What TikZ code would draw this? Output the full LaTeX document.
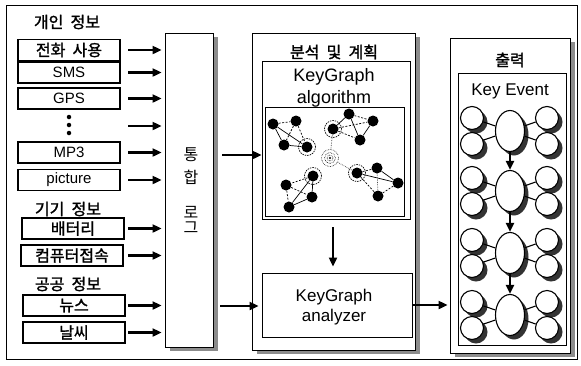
\documentclass[tikz,border=0pt]{standalone}
\usepackage{fontspec}
\setmainfont{Liberation Sans}
\newfontfamily\kr{Noto Sans CJK KR}
\newfontfamily\krb[FakeBold=1.5]{Noto Sans CJK KR}
\usetikzlibrary{arrows.meta,shapes.geometric,calc}
\newcommand\kgap{\hspace{0.45em}}
\begin{document}
\begin{tikzpicture}[x=1pt,y=-1pt,
  arr/.style={-{Triangle[length=9pt,width=8pt]}, line width=2.1pt},
  src/.style={draw, line width=1.2pt, minimum width=102pt, minimum height=21pt, inner sep=0pt},
  kt/.style={font=\kr\fontsize{16}{16}\selectfont},
  ktb/.style={font=\krb\fontsize{16}{16}\selectfont},
  lt/.style={font=\fontsize{15}{15}\selectfont},
  hdr/.style={font=\krb\fontsize{16}{16}\selectfont},
  panel/.style={draw, line width=0.9pt, fill=white, inner sep=0pt},
  shade/.style={fill=black!45},
  gn/.style={circle, fill=black, inner sep=0pt, minimum size=11pt},
  ge/.style={line width=0.7pt},
  gd/.style={line width=0.7pt, dash pattern=on 2pt off 1.5pt},
  gdot/.style={line width=0.7pt, densely dotted, black!70},
  sm/.style={circle, draw, line width=1.1pt, fill=white, inner sep=0pt, minimum size=23pt},
  bg/.style={ellipse, draw, line width=1.1pt, fill=white, inner sep=0pt, minimum width=29pt, minimum height=41pt},
  dotn/.style={circle, fill=black, inner sep=0pt, minimum size=4.5pt},
]
\useasboundingbox (0,0) rectangle (581,365);
\draw[line width=0.9pt] (6,5) rectangle (577,359);

% ---------- left column ----------
\node[hdr] (h1) at (67,22) {개인\kgap 정보};
\node[src,ktb] (s1) at (69,50) {전화\kgap 사용};
\node[src,lt] (s2) at (69,72.5) {SMS};
\node[src,lt] (s3) at (69,98.5) {GPS};
\node[dotn] (p1) at (69,117) {};
\node[dotn] (p2) at (69,125) {};
\node[dotn] (p3) at (69,133) {};
\node[src,lt] (s5) at (69,152.5) {MP3};
\node[src,lt] (s6) at (69,180) {picture};
\node[hdr] (h2) at (68,209) {기기\kgap 정보};
\node[src,ktb] (s7) at (73,228.5) {배터리};
\node[src,ktb] (s8) at (72,255.5) {컴퓨터접속};
\node[hdr] (h3) at (68,284) {공공\kgap 정보};
\node[src,ktb] (s9) at (74,305.5) {뉴스};
\node[src,ktb] (s10) at (74,332.5) {날씨};

% ---------- integrated log ----------
\fill[shade] (170,37) rectangle (218,351);
\node[panel, minimum width=48pt, minimum height=314pt] (log) at (189,190) {};
\node[kt] (t1) at (191,155) {통};
\node[kt] (t2) at (191,177) {합};
\node[kt] (t3) at (191,212) {로};
\node[kt] (t4) at (191,228) {그};

\coordinate (ax) at (128,0);
\foreach \n in {s1,s2,s3,s5,s6,s7,s8,s9,s10}
  \draw[arr, shorten >=3pt] (\n -| ax) -- (\n -| log.west);
\coordinate (dr) at (128,126);
\draw[arr, shorten >=3pt] (dr) -- (dr -| log.west);

% ---------- analysis & planning ----------
\fill[shade] (257,37) rectangle (420,354);
\node[panel, minimum width=163pt, minimum height=317pt] (ana) at (333.5,191.5) {};
\node[hdr] (h4) at (334,52) {분석\kgap 및\kgap 계획};
\node[panel, minimum width=148pt, minimum height=158pt] (alg) at (336,140) {};
\node[align=center, font=\fontsize{18}{22}\selectfont] (algt) at (334,87.5) {KeyGraph\\algorithm};
\node[panel, minimum width=139pt, minimum height=109pt] (gp) at (334.5,162) {};

% graph
\node[gn] (a1) at (273,124) {};
\node[gn] (a2) at (296,121) {};
\node[gn] (a3) at (284,145) {};
\node[gn] (a4) at (307,147) {};
\node[gn] (c1) at (333,129) {};
\node[gn] (c2) at (349,114) {};
\node[gn] (c3) at (373,121) {};
\node[gn] (c4) at (360,140) {};
\node[gn] (b1) at (313,176) {};
\node[gn] (b2) at (286,185) {};
\node[gn] (b3) at (312,197) {};
\node[gn] (b4) at (289,207) {};
\node[gn] (d1) at (357,173) {};
\node[gn] (d2) at (377,168) {};
\node[gn] (d3) at (398,183) {};
\node[gn] (d4) at (378,196) {};
\node[circle, draw, densely dotted, line width=0.6pt, inner sep=0pt, minimum size=17pt] (gm) at (330,158) {};
\draw[densely dotted, line width=0.6pt] (gm) circle (5.5pt) (gm) circle (3pt);
\fill (gm) circle (1.2pt);
\foreach \n in {a4,c1,b1,d1}
  \draw[line width=0.7pt, dash pattern=on 1.5pt off 1pt] (\n) circle (8.5pt);

\draw[gd] (a1) -- (a2); \draw[ge] (a1) -- (a3); \draw[ge] (a1) -- (a4);
\draw[gd] (a2) -- (a3); \draw[gd] (a2) -- (a4); \draw[ge] (a3) -- (a4);
\draw[ge] (c1) -- (c2); \draw[gd] (c1) -- (c3); \draw[gd] (c1) -- (c4);
\draw[gd] (c2) -- (c3); \draw[ge] (c2) -- (c4); \draw[ge] (c3) -- (c4);
\draw[gd] (b1) -- (b2); \draw[ge] (b1) -- (b3); \draw[ge] (b1) -- (b4);
\draw[gd] (b2) -- (b3); \draw[gd] (b2) -- (b4); \draw[ge] (b3) -- (b4);
\draw[gd] (d1) -- (d2); \draw[ge] (d1) -- (d3); \draw[gd] (d1) -- (d4);
\draw[ge] (d2) -- (d3); \draw[gdot] (d2) -- (d4); \draw[gd] (d3) -- (d4);
\draw[gdot] (gm) -- (c1);
\draw[gdot] (gm) -- (d1);

\node[panel, minimum width=150pt, minimum height=64pt] (an) at (337,305) {};
\node[align=center, font=\fontsize{17}{20}\selectfont] (ant) at (334,307) {KeyGraph\\analyzer};

\coordinate (la) at (0,155);
\draw[arr, shorten <=9pt] (log.east |- la) -- (alg.west |- la);
\coordinate (lb) at (0,306);
\draw[arr, shorten <=7pt, shorten >=3pt] (log.east |- lb) -- (an.west |- lb);
\coordinate (dx) at (333,0);
\draw[arr, shorten <=8pt, shorten >=6pt] (alg.south -| dx) -- (an.north -| dx);

% ---------- output ----------
\fill[shade] (455,42) rectangle (575,357);
\node[panel, minimum width=120pt, minimum height=315pt] (out) at (510,195.5) {};
\node[hdr] (h5) at (510,60) {출력};
\node[panel, minimum width=108pt, minimum height=272pt] (oin) at (512,209) {};
\node[font=\fontsize{17}{17}\selectfont] (ke) at (510,91) {Key Event};

\foreach \i/\y in {1/131,2/191,3/253,4/315}{
  \fill[black!80] (514,\y+4) ellipse (14.5pt and 20.5pt);
  \foreach \xx in {472,547}{
    \fill[black!80] (\xx+4,\y-9) circle (11.5pt);
    \fill[black!80] (\xx+4,\y+17) circle (11.5pt);
  }
}
\foreach \i/\y in {1/131,2/191,3/253,4/315}{
  \node[bg] (k\i c) at (510,\y) {};
  \node[sm] (k\i lt) at (472,\y-13) {};
  \node[sm] (k\i lb) at (472,\y+13) {};
  \node[sm] (k\i rt) at (547,\y-13) {};
  \node[sm] (k\i rb) at (547,\y+13) {};
  \foreach \s in {lt,lb,rt,rb}
    \draw[line width=1.1pt] (k\i\s) -- (k\i c);
}
\draw[arr] (k1c) -- (k2c);
\draw[arr] (k2c) -- (k3c);
\draw[arr] (k3c) -- (k4c);

\draw[arr, shorten >=2pt] (an.east) -- (an.east -| out.west);
\end{tikzpicture}
\end{document}
